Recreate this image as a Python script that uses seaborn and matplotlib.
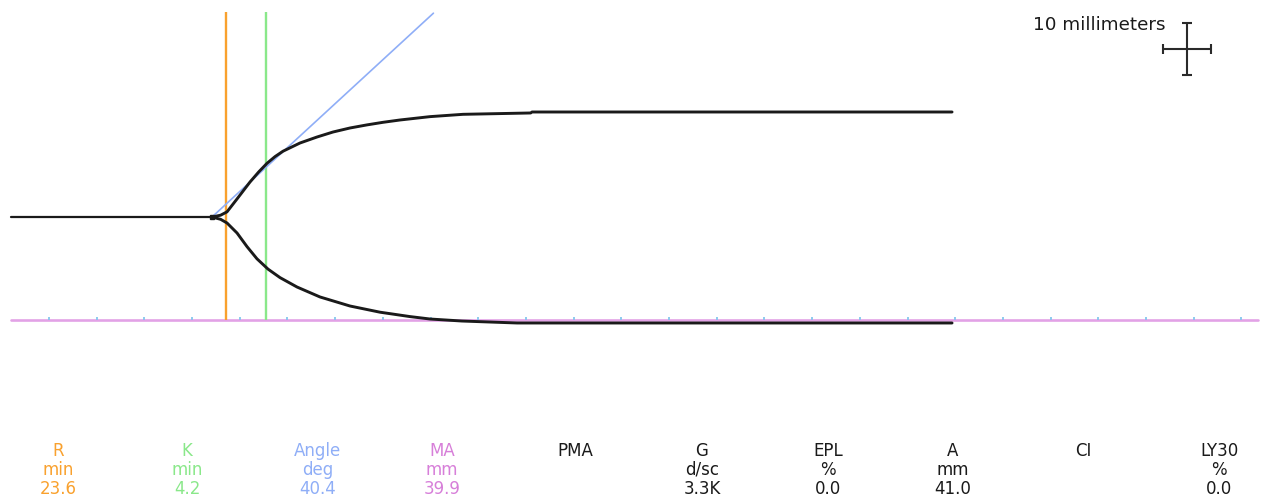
import numpy as np
import pandas as pd
import matplotlib
matplotlib.use("Agg")
import matplotlib.pyplot as plt
import seaborn as sns

# ---------------- data ----------------
# TEG trace: time (min) and half-amplitude (mm)
time_upper = [22.10, 23.00, 23.67, 24.72, 26.08, 27.00, 27.86, 28.70, 29.54, 31.32,
              33.10, 34.78, 36.56, 38.34, 40.02, 41.80, 44.95, 48.41, 55.50, 55.64, 99.67]
amp_upper = [0.0, 0.35, 1.0, 3.5, 6.78, 8.75, 10.40, 11.70, 12.75, 14.34,
             15.50, 16.47, 17.25, 17.85, 18.35, 18.80, 19.45, 19.90, 20.16, 20.35, 20.35]
time_lower = [22.10, 23.00, 23.67, 24.72, 25.77, 26.81, 27.97, 29.23, 31.01, 33.42,
              36.56, 39.71, 42.85, 44.95, 48.30, 54.07, 99.67]
amp_lower = [0.0, 0.45, 1.16, 3.10, 5.75, 8.10, 10.10, 11.75, 13.57, 15.50,
             17.25, 18.45, 19.30, 19.77, 20.16, 20.54, 20.54]
trace_start = 1.03      # min, start of baseline
split_time = 22.10      # min, where trace splits
axis_end = 131.7        # min, end of MA reference line
tick_minutes = list(range(5, 131, 5))

R_min = 23.6
K_min = 4.2
angle_deg = 40.4
MA_mm = 39.9

param_names = ["R", "K", "Angle", "MA", "PMA", "G", "EPL", "A", "CI", "LY30"]
param_units = ["min", "min", "deg", "mm", "", "d/sc", "%", "mm", "", "%"]
param_values = ["23.6", "4.2", "40.4", "39.9", "", "3.3K", "0.0", "41.0", "", "0.0"]

scale_label = "10 millimeters"
scale_mm = 10
scale_min = 5

# ---------------- style ----------------
C_R = "#F9A12E"
C_K = "#8AE88A"
C_ANG = "#8FAEF7"
C_MA_TXT = "#D77FD9"
C_MA_LINE = "#E2A2E6"
C_TICK = "#86C6EE"
C_BLACK = "#1a1a1a"
param_colors = [C_R, C_K, C_ANG, C_MA_TXT] + [C_BLACK] * 6

sns.set_style("white")
plt.rcParams["font.family"] = ["DejaVu Sans"]

W, H = 1262, 499
fig = plt.figure(figsize=(W / 100, H / 100), dpi=100)
ax = fig.add_axes([0, 0, 1, 1])
px_per_min = 9.54
px_per_mm = 5.16
x0_px = 1.2
base_px = 217
ax.set_xlim(-x0_px / px_per_min, (W - x0_px) / px_per_min)
ax.set_ylim(-(H - base_px) / px_per_mm, base_px / px_per_mm)
ax.axis("off")

ma_y = -MA_mm / 2
top_y = 39.7

# MA reference line with ticks
sns.lineplot(x=[trace_start, axis_end], y=[ma_y, ma_y], color=C_MA_LINE, lw=1.9, ax=ax, zorder=2)
ax.vlines(tick_minutes, ma_y, ma_y + 0.55, color=C_TICK, lw=1.3, zorder=3)

# R and K lines
ax.vlines([R_min], ma_y, top_y, color=C_R, lw=1.7, zorder=2)
ax.vlines([R_min + K_min], ma_y, top_y, color=C_K, lw=1.7, zorder=2)

# Angle line
slope = 2 * np.tan(np.radians(angle_deg))
ang_end = split_time + 39.5 / slope
sns.lineplot(x=[split_time, ang_end], y=[0, 39.5], color=C_ANG, lw=1.2, ax=ax, zorder=2)

# trace
sns.lineplot(x=[trace_start, split_time], y=[0, 0], color=C_BLACK, lw=1.6, ax=ax, zorder=4)
up = pd.DataFrame({"t": time_upper, "a": amp_upper})
lo = pd.DataFrame({"t": time_lower, "a": [-v for v in amp_lower]})
sns.lineplot(data=up, x="t", y="a", sort=False, estimator=None, color=C_BLACK, lw=2.1, ax=ax, zorder=4)
sns.lineplot(data=lo, x="t", y="a", sort=False, estimator=None, color=C_BLACK, lw=2.1, ax=ax, zorder=4)
ax.plot([split_time], [0], marker="s", ms=3, color=C_BLACK, zorder=5)

# scale bar
sb_x = (1187 - x0_px) / px_per_min
sb_y = (base_px - 48.7) / px_per_mm
ax.errorbar(sb_x, sb_y, xerr=scale_min / 2, yerr=scale_mm / 2, capsize=3.6,
            color="#2a2a2a", lw=1.5, capthick=1.5, zorder=5)
ax.text((1165 - x0_px) / px_per_min, (base_px - 25) / px_per_mm, scale_label,
        ha="right", va="center", fontsize=13.2, color="#1a1a1a")

# parameter table
col_px = [58, 187, 318, 442, 575, 702, 828, 953, 1083, 1219]
row_base_px = [456, 475, 494]
for i, name in enumerate(param_names):
    xf = col_px[i] / W
    for r, txt in enumerate([name, param_units[i], param_values[i]]):
        if txt:
            fig.text(xf, 1 - row_base_px[r] / H, txt, ha="center", va="baseline",
                     fontsize=12, color=param_colors[i])

fig.savefig("out.png", dpi=100)
